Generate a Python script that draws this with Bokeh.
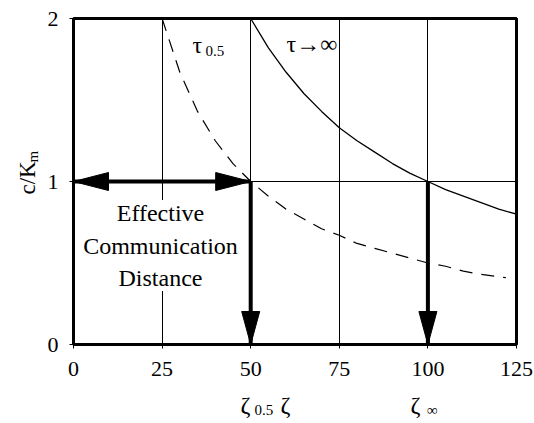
import math
from bokeh.plotting import figure
from bokeh.models import Label, FixedTicker
from bokeh.core.properties import value
from bokeh.embed import file_html
from bokeh.resources import INLINE

# ---- data ----
zeta_inf = [50, 55, 60, 65, 70, 75, 80, 85, 90, 95, 100, 105, 110, 115, 120, 125]
c_inf = [2.0, 1.82, 1.67, 1.54, 1.43, 1.33, 1.25, 1.18, 1.11, 1.05, 1.0, 0.95, 0.91, 0.87, 0.83, 0.8]

zeta_half = [25, 30, 35, 40, 45, 50, 55, 60, 65, 70, 75, 80, 85, 90, 95, 100, 105, 110, 115, 122]
c_half = [2.0, 1.67, 1.43, 1.25, 1.11, 1.0, 0.91, 0.83, 0.77, 0.71, 0.67, 0.62, 0.59, 0.56, 0.53, 0.5, 0.48, 0.45, 0.43, 0.41]

x_ticks = [0, 25, 50, 75, 100, 125]
y_ticks = [0, 1, 2]
x_grid = [25, 50, 75, 100]
y_grid = [1]

zeta_05 = 50
zeta_infty = 100
c_level = 1.0

W, H = 534, 423
BL, BR, BT, BB = 73, 18, 18, 79
FW, FH = W - BL - BR, H - BT - BB
X0, X1, Y0, Y1 = 0, 125, 0, 2
sx = (X1 - X0) / FW
sy = (Y1 - Y0) / FH

def dx(px):
    return X0 + (px - BL) * sx

def dy(py):
    return Y0 + (H - BB - py) * sy

FONT = "Liberation Serif"
NB = "\u00a0"

p = figure(width=W, height=H, x_range=(X0, X1), y_range=(Y0, Y1),
           output_backend="svg", toolbar_location=None,
           min_border_left=BL, min_border_right=BR, min_border_top=BT, min_border_bottom=BB)
p.background_fill_color = "white"
p.border_fill_color = "white"
p.outline_line_color = "black"
p.outline_line_width = 3

for ax, ticks in ((p.xaxis[0], x_ticks), (p.yaxis[0], y_ticks)):
    ax.ticker = FixedTicker(ticks=ticks)
    ax.axis_line_width = 3
    ax.axis_line_color = "black"
    ax.major_tick_in = 0
    ax.major_tick_out = 4
    ax.major_tick_line_color = "black"
    ax.minor_tick_line_color = None
    ax.major_label_text_font = FONT
    ax.major_label_text_font_size = "22px"
    ax.major_label_text_color = "black"
    ax.major_label_standoff = 11
p.xaxis[0].major_label_standoff = 13

p.xgrid.ticker = FixedTicker(ticks=x_grid)
p.ygrid.ticker = FixedTicker(ticks=y_grid)
for g in (p.xgrid, p.ygrid):
    g.grid_line_color = "black"
    g.grid_line_width = 1
    g.grid_line_alpha = 1.0

p.line(zeta_inf, c_inf, line_color="black", line_width=1.3)
p.line(zeta_half, c_half, line_color="black", line_width=1.2, line_dash="13 9")

HEAD_LEN = 35
HEAD_W = 18
SHAFT = 4
p.segment(x0=[0], y0=[c_level], x1=[zeta_05], y1=[c_level], line_color="black", line_width=SHAFT)
p.segment(x0=[zeta_05, zeta_infty], y0=[c_level, c_level], x1=[zeta_05, zeta_infty], y1=[0, 0],
          line_color="black", line_width=SHAFT)
hl, hw = HEAD_LEN * sx, HEAD_W * sy
vl, vw = (HEAD_LEN - 2) * sy, HEAD_W * sx
xs = [[0, hl, hl], [zeta_05, zeta_05 - hl, zeta_05 - hl],
      [zeta_05, zeta_05 - vw / 2, zeta_05 + vw / 2], [zeta_infty, zeta_infty - vw / 2, zeta_infty + vw / 2]]
ys = [[c_level, c_level + hw / 2, c_level - hw / 2], [c_level, c_level + hw / 2, c_level - hw / 2],
      [0, vl, vl], [0, vl, vl]]
p.patches(xs, ys, fill_color="black", line_color="black", line_width=1)

def lab(text, px, py, size, align="left", baseline="middle", angle=0.0, side="center", **kw):
    l = Label(x=dx(px), y=dy(py), text=text, text_font=FONT, text_font_size=f"{size}px",
              text_align=align, text_baseline=baseline, angle=angle, text_color="black", **kw)
    p.add_layout(l, side)
    return l

def gtext(text, px, py, size, align="left"):
    p.text(x=[dx(px)], y=[dy(py)], text=[text], text_font=value(FONT), text_font_size=f"{size}px",
           text_align=align, text_baseline="middle", text_color="black")

lab("Effective\nCommunication\nDistance", 160, 245, 24, align="center",
    background_fill_color="white", text_line_height=1.25)

gtext("τ", 192, 44, 24)
gtext("0.5", 205, 50, 15)
gtext("τ→∞", 286, 43, 24)

# labels outside the frame live in the side panels
lab("c/K", 27, 194, 23, angle=math.pi / 2, side="left")
lab("m", 32, 162, 15, angle=math.pi / 2, side="left")
lab("ζ" + NB * 5 + "ζ" + NB * 20 + "ζ", 240, 404, 24, side="below")
lab("0.5" + NB * 41 + "∞", 254, 409, 15, side="below")

open("out.html", "w").write(file_html(p, INLINE))
